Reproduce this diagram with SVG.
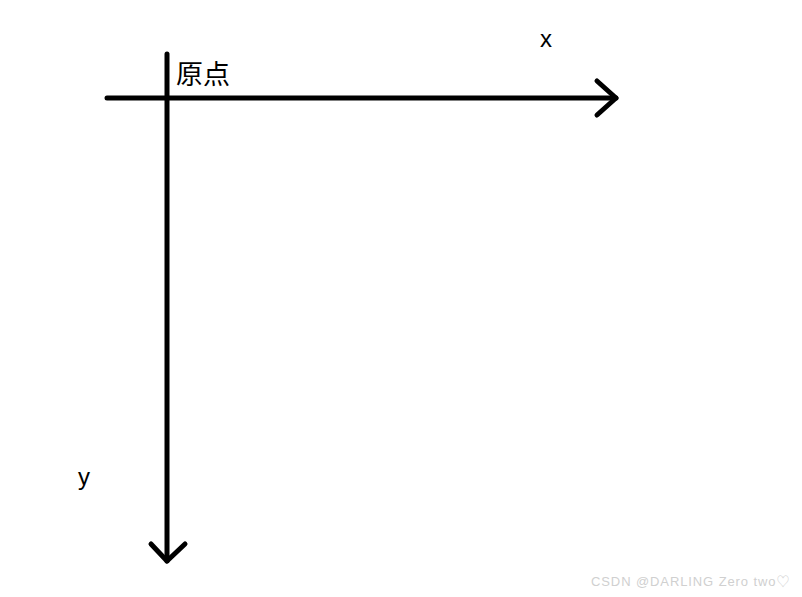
<svg xmlns="http://www.w3.org/2000/svg" width="802" height="597" viewBox="0 0 802 597">
<style>
.ax{stroke:#000;stroke-width:5;fill:none;stroke-linecap:round;stroke-linejoin:round}
.t{font-family:"Liberation Sans","Noto Sans CJK SC",sans-serif;font-size:24px;fill:#000}
.wm{font-family:"Liberation Sans","Noto Sans CJK SC",sans-serif;font-size:13px;fill:#d0d0d0;letter-spacing:0.9px}
</style>
<rect width="802" height="597" fill="#fff"/>
<g id="connectors">
<path class="ax" d="M107 98 H616"/>
<path class="ax" d="M597 81 L616 98 L597 115"/>
<path class="ax" d="M167 54 V561"/>
<path class="ax" d="M151 544 L167 561 L185 544"/>
</g>
<g id="origin"><text class="t" x="176" y="84" style="font-size:27px">原点</text></g>
<g id="x-label"><text class="t" x="540" y="47">x</text></g>
<g id="y-label"><text class="t" x="78" y="485">y</text></g>
<text class="wm" x="591" y="586">CSDN @DARLING Zero two♡</text>
</svg>
